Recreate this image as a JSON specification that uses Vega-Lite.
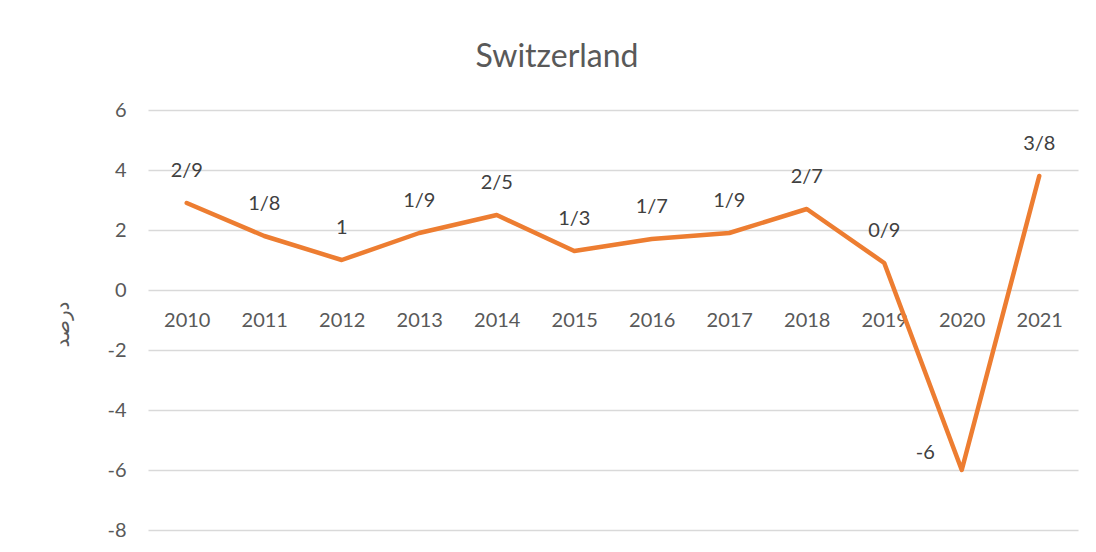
{
  "$schema": "https://vega.github.io/schema/vega-lite/v6.json",
  "width": 930,
  "height": 420,
  "autosize": "none",
  "padding": {"left": 148, "top": 110, "right": 18, "bottom": 22},
  "background": "white",
  "config": {"view": {"stroke": null}, "font": "Lato"},
  "title": {
    "text": "Switzerland",
    "fontSize": 32,
    "font": "Lato",
    "fontWeight": "normal",
    "color": "#595959",
    "anchor": "middle",
    "dx": -56,
    "dy": 9,
    "baseline": "alphabetic",
    "offset": 10
  },
  "data": {
    "values": [
      {"year": "2010", "value": 2.9},
      {"year": "2011", "value": 1.8},
      {"year": "2012", "value": 1},
      {"year": "2013", "value": 1.9},
      {"year": "2014", "value": 2.5},
      {"year": "2015", "value": 1.3},
      {"year": "2016", "value": 1.7},
      {"year": "2017", "value": 1.9},
      {"year": "2018", "value": 2.7},
      {"year": "2019", "value": 0.9},
      {"year": "2020", "value": -6},
      {"year": "2021", "value": 3.8}
    ]
  },
  "transform": [
    {"calculate": "replace(toString(datum.value), '.', '/')", "as": "label"}
  ],
  "encoding": {
    "x": {
      "field": "year",
      "type": "ordinal",
      "scale": {"type": "point", "padding": 0.5},
      "axis": {
        "title": null,
        "offset": -240,
        "domain": false,
        "ticks": false,
        "labelAngle": 0,
        "labelFontSize": 20,
        "labelColor": "#595959",
        "labelPadding": 20,
        "labelBaseline": "top",
        "grid": false
      }
    },
    "y": {
      "field": "value",
      "type": "quantitative",
      "scale": {"domain": [-8, 6], "nice": false, "zero": false},
      "axis": {
        "title": "درصد",
        "titleFont": "DejaVu Sans",
        "titleFontSize": 20,
        "titleFontWeight": "normal",
        "titleColor": "#595959",
        "titleX": -76,
        "titleY": 214,
        "values": [-8, -6, -4, -2, 0, 2, 4, 6],
        "labelExpr": "toString(datum.value)",
        "domain": false,
        "ticks": false,
        "labelFontSize": 20,
        "labelColor": "#595959",
        "labelPadding": 22,
        "grid": true,
        "gridColor": "#D9D9D9",
        "gridWidth": 1.3
      }
    }
  },
  "layer": [
    {
      "mark": {"type": "line", "color": "#ED7D31", "strokeWidth": 4.5, "strokeCap": "round", "strokeJoin": "round"}
    },
    {
      "transform": [{"filter": "datum.year != '2020'"}],
      "mark": {"type": "text", "fontSize": 20, "color": "#404040", "baseline": "middle", "dy": -32},
      "encoding": {"text": {"field": "label"}}
    },
    {
      "transform": [{"filter": "datum.year == '2020'"}],
      "mark": {"type": "text", "fontSize": 20, "color": "#404040", "baseline": "middle", "align": "right", "dx": -27, "dy": -17},
      "encoding": {"text": {"field": "label"}}
    }
  ]
}
